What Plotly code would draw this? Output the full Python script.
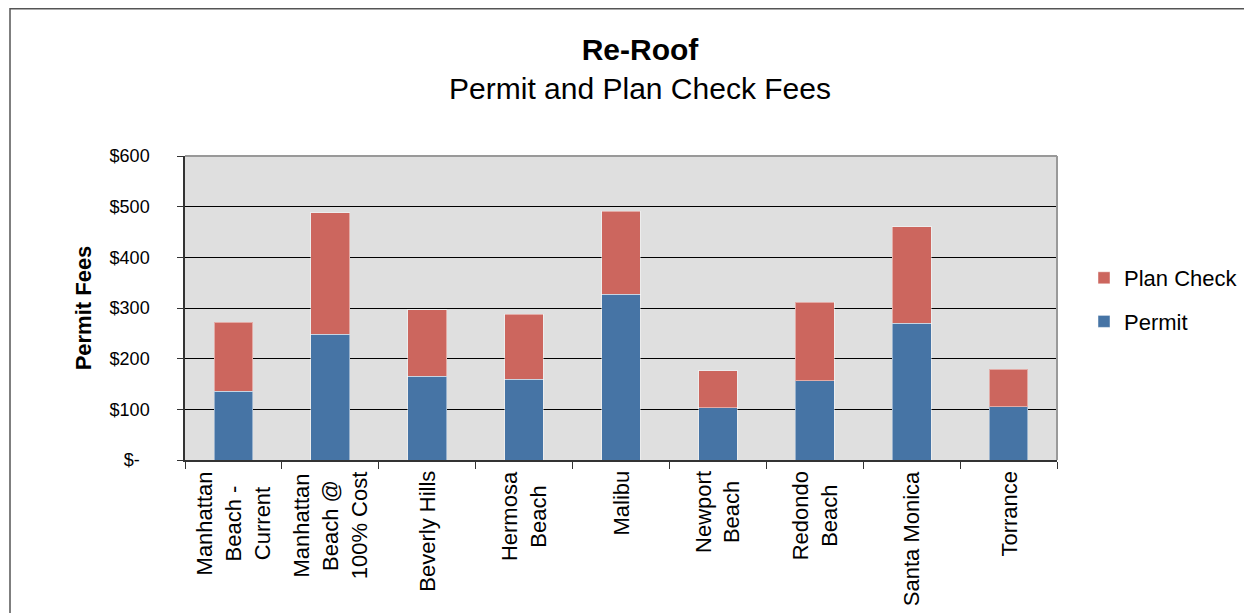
import plotly.graph_objects as go

categories = [
    "Manhattan<br>Beach -<br>Current",
    "Manhattan<br>Beach @<br>100% Cost",
    "Beverly Hills",
    "Hermosa<br>Beach",
    "Malibu",
    "Newport<br>Beach",
    "Redondo<br>Beach",
    "Santa Monica",
    "Torrance",
]
permit = [136, 248, 165, 159, 327, 103, 156, 270, 105]
plan_check = [136, 240, 132, 129, 164, 73, 155, 190, 74]

y_tickvals = [0, 100, 200, 300, 400, 500, 600]
y_ticktext = ["$-\u00a0\u00a0", "$100", "$200", "$300", "$400", "$500", "$600"]

FONT = "Liberation Sans, Arial, sans-serif"

fig = go.Figure()
fig.add_trace(go.Bar(
    x=categories, y=permit, name="Permit", legendgroup="a", legendrank=2,
    marker=dict(color="#4674A5", line=dict(color="rgba(255,255,255,0.45)", width=1)),
    width=0.4,
))
fig.add_trace(go.Bar(
    x=categories, y=plan_check, name="Plan Check", legendgroup="b", legendrank=1,
    marker=dict(color="#CC665E", line=dict(color="rgba(255,255,255,0.45)", width=1)),
    width=0.4,
))

# page is offset by the default 8px body margin
OFF = 8
W, H = 1252 - OFF, 613 - OFF
L, T = 185 - OFF, 156 - OFF
pw, ph = 872, 304
R = W - L - pw
B = H - T - ph

def px_x(p):  # page pixel -> paper x
    return (p - OFF - L) / pw

def px_y(p):  # page pixel -> paper y
    return (H - B - (p - OFF)) / ph

annotations = [
    dict(x=c, y=0, xref="x", yref="paper", text=c, textangle=-90,
         xanchor="center", yanchor="top", yshift=-9, align="center",
         showarrow=False, font=dict(size=22, family=FONT, color="black"))
    for c in categories
]

fig.update_layout(
    width=W, height=H,
    barmode="stack",
    paper_bgcolor="white",
    plot_bgcolor="#DFDFDF",
    margin=dict(l=L, r=R, t=T, b=B, autoexpand=False),
    font=dict(family=FONT, color="black", size=18),
    title=dict(
        text="<b>Re-Roof</b><br>Permit and Plan Check Fees",
        x=px_x(640), xanchor="center", xref="paper",
        y=1 - 52 / H, yanchor="top",
        font=dict(size=30, family=FONT, color="black"),
    ),
    legend=dict(
        x=px_x(1084), xanchor="left", y=px_y(300), yanchor="middle",
        traceorder="grouped", tracegroupgap=12,
        font=dict(size=22, family=FONT), bgcolor="rgba(0,0,0,0)",
        itemwidth=30,
    ),
    annotations=annotations,
    shapes=[
        dict(type="rect", xref="paper", yref="paper",
             x0=px_x(10), x1=px_x(1275), y0=1 + (T - 0.75) / ph, y1=px_y(640),
             line=dict(color="#555555", width=1.5), fillcolor="rgba(0,0,0,0)", layer="below"),
        dict(type="line", xref="paper", yref="paper", x0=0, x1=1, y0=1, y1=1,
             line=dict(color="#999999", width=2)),
        dict(type="line", xref="paper", yref="paper", x0=1, x1=1, y0=0, y1=1,
             line=dict(color="#999999", width=2)),
    ],
)

fig.update_yaxes(
    range=[0, 600],
    tickvals=y_tickvals, ticktext=y_ticktext,
    showgrid=True, gridcolor="#000000", gridwidth=1,
    showline=True, linecolor="#333333", linewidth=1.5,
    ticks="outside", ticklen=6, tickcolor="#333333",
    ticklabelstandoff=24,
    tickfont=dict(size=18, family=FONT),
    title=dict(text="<b>Permit Fees</b>", font=dict(size=22, family=FONT), standoff=12),
    zeroline=False,
)
fig.update_xaxes(
    tickson="boundaries",
    ticks="outside", ticklen=7, tickcolor="#333333",
    showline=True, linecolor="#333333", linewidth=1.5,
    showticklabels=False,
    showgrid=False,
)

fig.write_html("out.html")
